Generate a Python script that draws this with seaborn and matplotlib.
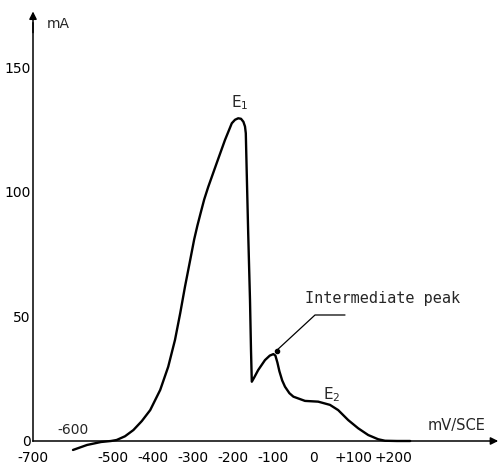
import matplotlib
matplotlib.use("Agg")
import matplotlib.pyplot as plt
import seaborn as sns
import pandas as pd

# Potential (mV vs SCE) and current (mA)
potential_mv = [-600, -565, -530, -505, -491, -470, -449, -428, -407, -382,
                -362, -345, -332, -320, -307, -297, -289, -281, -272, -262,
                -241, -220, -203, -195, -187, -180, -174, -170, -168, -166,
                -162, -157.5, -155, -153, -147, -141, -137, -120, -108, -99,
                -94, -89, -84, -77, -70, -59, -49, -20, 13, 42.5,
                63, 88, 113, 138, 163, 180, 210, 243]
current_ma = [-3.6, -1.6, -0.4, 0.0, 0.4, 1.9, 4.4, 8.0, 12.4, 20.5,
              29.8, 40.6, 51.3, 62.0, 72.7, 81.0, 86.5, 91.5, 97.0, 102.0,
              111.5, 120.9, 127.6, 129.0, 129.6, 129.4, 128.2, 126.3, 123.6, 110.0,
              83.4, 56.6, 36.5, 23.8, 25.5, 27.3, 28.5, 32.5, 34.3, 34.9,
              34.3, 31.5, 28.0, 24.3, 21.8, 19.2, 17.8, 16.1, 15.8, 14.5,
              12.4, 8.4, 5.1, 2.4, 0.7, 0.1, 0.0, 0.0]

x_ticks = [-700, -600, -500, -400, -300, -200, -100, 0, 100, 200]
x_tick_labels = ["-700", "", "-500", "-400", "-300", "-200", "-100", "0", "+100", "+200"]
y_ticks = [0, 50, 100, 150]
y_tick_labels = ["0", "50", "100", "150"]

df = pd.DataFrame({"mV": potential_mv, "mA": current_ma})

sns.set_style("white")
plt.rcParams["font.family"] = ["DejaVu Sans"]

fig = plt.figure(figsize=(5.0, 4.65), dpi=100, facecolor="white")
ax = fig.add_axes([0, 0, 1, 1])
ax.set_facecolor("white")

sns.lineplot(data=df, x="mV", y="mA", sort=False, estimator=None,
             color="black", linewidth=1.7, ax=ax,
             solid_joinstyle="round", solid_capstyle="round")

ax.set_xlim(-782.5, 467.5)
ax.set_ylim(-9.64, 177.1)

# axes through origin
for s in ["top", "right"]:
    ax.spines[s].set_visible(False)
ax.spines["left"].set_position(("data", -700))
ax.spines["bottom"].set_position(("data", 0))
ax.spines["left"].set_bounds(0, 168)
ax.spines["bottom"].set_bounds(-700, 458)
ax.spines["left"].set_linewidth(1.1)
ax.spines["bottom"].set_linewidth(1.1)
ax.spines["left"].set_color("black")
ax.spines["bottom"].set_color("black")

ax.annotate("", xy=(-700, 172.5), xytext=(-700, 164),
            arrowprops=dict(arrowstyle="-|>", color="black", lw=1.1,
                            mutation_scale=11, shrinkA=0, shrinkB=0))
ax.annotate("", xy=(463, 0), xytext=(445, 0),
            arrowprops=dict(arrowstyle="-|>", color="black", lw=1.1,
                            mutation_scale=11, shrinkA=0, shrinkB=0))

ax.set_xticks(x_ticks)
ax.set_xticklabels(x_tick_labels)
ax.set_yticks(y_ticks)
ax.set_yticklabels(y_tick_labels)
ax.tick_params(axis="x", direction="in", length=3.5, width=1, pad=7,
               labelsize=10, colors="black")
ax.tick_params(axis="y", direction="in", length=3, width=1, pad=1.5,
               labelsize=10, colors="black")
ax.set_xlabel("")
ax.set_ylabel("")

# annotations
ax.text(-600, 4.4, "-600", ha="center", va="center", fontsize=10)
ax.text(-665, 167.5, "mA", ha="left", va="center", fontsize=10)
ax.text(287, 6.4, "mV/SCE", ha="left", va="center", fontsize=10.5)
ax.text(-182, 135.7, "E$_1$", ha="center", va="center", fontsize=11)
ax.text(47, 18.5, "E$_2$", ha="center", va="center", fontsize=11)
ax.text(-20, 57.4, "Intermediate peak", ha="left", va="center",
        fontsize=11, family=["DejaVu Sans Mono"])
ax.plot([-90, 5, 80], [36.5, 50.6, 50.6], color="black", lw=0.9)
ax.plot([-91], [36.2], marker="o", markersize=3, color="black")

fig.savefig("out.png", dpi=100, facecolor="white")
